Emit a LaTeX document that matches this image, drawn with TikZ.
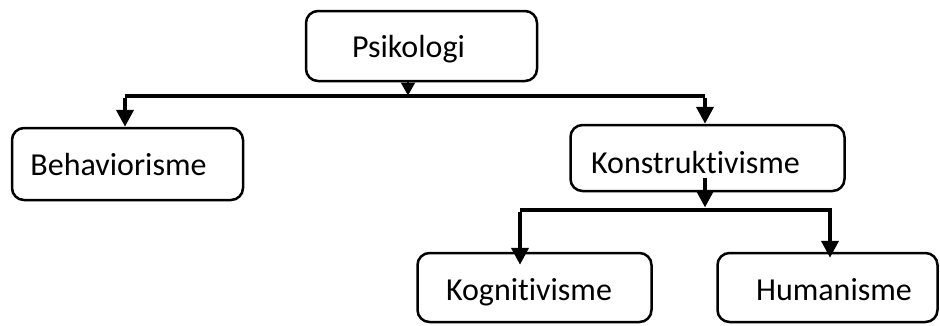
\documentclass[tikz,border=0pt]{standalone}
\usepackage{fontspec}
\setmainfont{Carlito}[Ligatures={NoCommon,NoRare}]
\usetikzlibrary{arrows.meta}
\tikzset{
  box/.style={draw=black, line width=2.5pt, rounded corners=12pt, fill=white, inner sep=0pt},
  txt/.style={anchor=base, inner sep=0pt, font=\fontsize{32}{38}\selectfont},
  conn/.style={line width=4pt, black},
  bigarr/.style={conn, -{Triangle[length=17pt,width=17pt]}},
  smallarr/.style={line width=2pt, -{Triangle[length=13pt,width=14pt]}},
}
\begin{document}
\begin{tikzpicture}[x=1pt,y=-1pt]
\useasboundingbox (0,0) rectangle (940,325);
% boxes
\node[box, minimum width=231pt, minimum height=70pt] (psi) at (421.5,46) {};
\node[box, minimum width=231pt, minimum height=72pt] (beh) at (127.5,164) {};
\node[box, minimum width=274pt, minimum height=66pt] (kon) at (707.5,158) {};
\node[box, minimum width=234pt, minimum height=69pt] (kog) at (534.5,287.5) {};
\node[box, minimum width=220pt, minimum height=69pt] (hum) at (827.5,287.5) {};
% texts
\node[txt] (psit) at (408.5,57) {Psikologi};
\node[txt] (beht) at (118.5,175) {Behaviorisme};
\node[txt] (kont) at (695.5,173) {Konstruktivisme};
\node[txt] (kogt) at (529,300) {Kognitivisme};
\node[txt] (humt) at (834,300) {Humanisme};
% junctions
\coordinate (j1) at (408,95.5);
\coordinate (jl) at (125,95.5);
\coordinate (jr) at (705,95.5);
\coordinate (ks) at (705,178);
\coordinate (j2) at (705,209.5);
\coordinate (j2l) at (520,209.5);
\coordinate (j2r) at (832,209.5);
\coordinate (hr) at (830,211.5);
% connectors level 1
\draw[smallarr] (psi.south -| j1) -- (j1);
\draw[conn] (jl) -- (jr);
\draw[bigarr] ([yshift=-2pt]jl) -- (beh.north -| jl);
\draw[bigarr] ([yshift=-2pt]jr) -- (kon.north -| jr);
% connectors level 2
\draw[bigarr] (ks) -- ([yshift=2pt]j2);
\draw[conn] (j2l) -- (j2r);
\draw[bigarr] ([yshift=-2pt]j2l) -- ([yshift=-13pt]kog.north -| j2l);
\draw[bigarr] (hr) -- ([yshift=-6pt]hum.north -| hr);
\end{tikzpicture}
\end{document}
